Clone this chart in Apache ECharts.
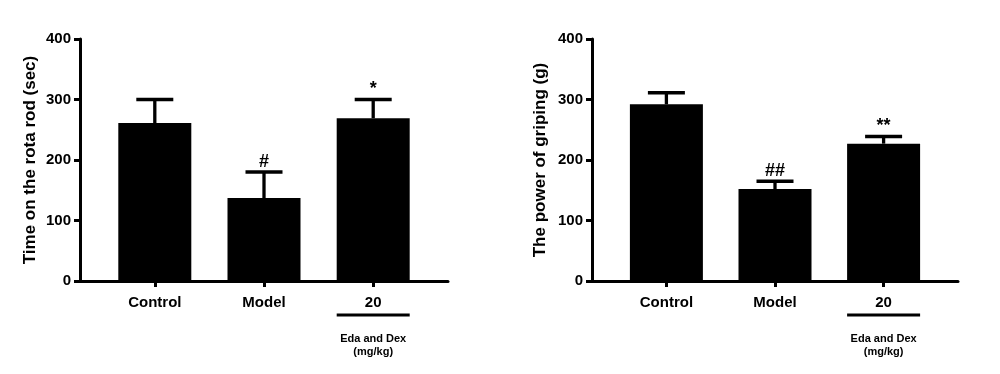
<!DOCTYPE html>
<html>
<head>
<meta charset="utf-8">
<script src="https://cdn.jsdelivr.net/npm/echarts@6/dist/echarts.min.js"></script>
<style>
html,body{margin:0;padding:0;background:#fff;}
#chart{width:1000px;height:374px;}
</style>
</head>
<body>
<div id="chart"></div>
<script>
// ---- data ----
const categories = ['Control', 'Model', '20'];
const rotaMean = [261, 137, 269];
const rotaErrTop = [300, 180, 300];
const rotaMarks = ['', '#', '*'];
const gripMean = [292, 152, 227];
const gripErrTop = [311, 165, 239];
const gripMarks = ['', '##', '**'];
const yTicks = [0, 100, 200, 300, 400];
const groupLabel = 'Eda and Dex';
const unitLabel = '(mg/kg)';

const FONT = '"Liberation Sans", Arial, sans-serif';
const chart = echarts.init(document.getElementById('chart'));

function xAxisCfg(gi) {
  return {
    type: 'value', gridIndex: gi, min: -0.685, max: 2.685,
    axisLine: { show: true, onZero: false, lineStyle: { color: '#000', width: 3 } },
    axisTick: { show: true, length: 6, lineStyle: { color: '#000', width: 3 }, customValues: [0, 1, 2] },
    axisLabel: {
      customValues: [0, 1, 2],
      margin: 14,
      color: '#000', fontFamily: FONT, fontWeight: 'bold', fontSize: 15,
      formatter: function (v) {
        const i = Math.round(v);
        if (i === 2) {
          return '{a|' + categories[i] + '}\n{u|}\n{sp|}\n{b|' + groupLabel + '}\n{b|' + unitLabel + '}';
        }
        return '{a|' + categories[i] + '}';
      },
      rich: {
        a: { fontFamily: FONT, fontWeight: 'bold', fontSize: 15, lineHeight: 15, color: '#000' },
        u: { width: 73, height: 3, backgroundColor: '#000', lineHeight: 10, verticalAlign: 'middle' },
        sp: { lineHeight: 13, fontSize: 1 },
        b: { fontFamily: FONT, fontWeight: 'bold', fontSize: 11, lineHeight: 12.5, color: '#000' }
      }
    },
    splitLine: { show: false }
  };
}
function yAxisCfg(gi, name, gap) {
  return {
    type: 'value', gridIndex: gi, min: yTicks[0], max: yTicks[yTicks.length - 1], interval: 100,
    name: name, nameLocation: 'middle', nameGap: gap,
    nameTextStyle: { color: '#000', fontFamily: FONT, fontWeight: 'bold', fontSize: 17 },
    axisLine: { show: true, onZero: false, lineStyle: { color: '#000', width: 3 } },
    axisTick: { show: true, length: 6, lineStyle: { color: '#000', width: 3 } },
    axisLabel: {
      margin: 9, color: '#000', fontFamily: FONT, fontWeight: 'bold', fontSize: 15
    },
    splitLine: { show: false }
  };
}
function barSeries(gi, means) {
  return {
    type: 'bar', xAxisIndex: gi, yAxisIndex: gi,
    data: means.map((v, i) => [i, v]),
    barWidth: 73, itemStyle: { color: '#000' }, silent: true
  };
}
function errSeries(gi, means, tops, marks) {
  return {
    type: 'custom', xAxisIndex: gi, yAxisIndex: gi, clip: false, silent: true,
    data: means.map((v, i) => [i, v, tops[i]]),
    renderItem: function (params, api) {
      const i = api.value(0);
      const b = api.coord([i, api.value(1)]);
      const t = api.coord([i, api.value(2)]);
      const half = 18.5;
      const children = [
        { type: 'line', shape: { x1: b[0], y1: b[1], x2: t[0], y2: t[1] }, style: { stroke: '#000', lineWidth: 3.3 } },
        { type: 'line', shape: { x1: t[0] - half, y1: t[1], x2: t[0] + half, y2: t[1] }, style: { stroke: '#000', lineWidth: 3.5 } }
      ];
      const m = marks[params.dataIndex];
      if (m) {
        children.push({
          type: 'text',
          style: { x: t[0], y: t[1] - 1, text: m, textAlign: 'center', textVerticalAlign: 'bottom',
            fill: '#000', font: 'bold 18px ' + FONT }
        });
      }
      return { type: 'group', children: children };
    }
  };
}

chart.setOption({
  animation: false,
  backgroundColor: '#fff',
  grid: [
    { left: 80, top: 39, width: 368, height: 242 },
    { left: 592, top: 39, width: 366, height: 242 }
  ],
  xAxis: [xAxisCfg(0), xAxisCfg(1)],
  yAxis: [yAxisCfg(0, 'Time on the rota rod (sec)', 41), yAxisCfg(1, 'The power of griping (g)', 43)],
  series: [
    barSeries(0, rotaMean), errSeries(0, rotaMean, rotaErrTop, rotaMarks),
    barSeries(1, gripMean), errSeries(1, gripMean, gripErrTop, gripMarks)
  ]
});
</script>
</body>
</html>
